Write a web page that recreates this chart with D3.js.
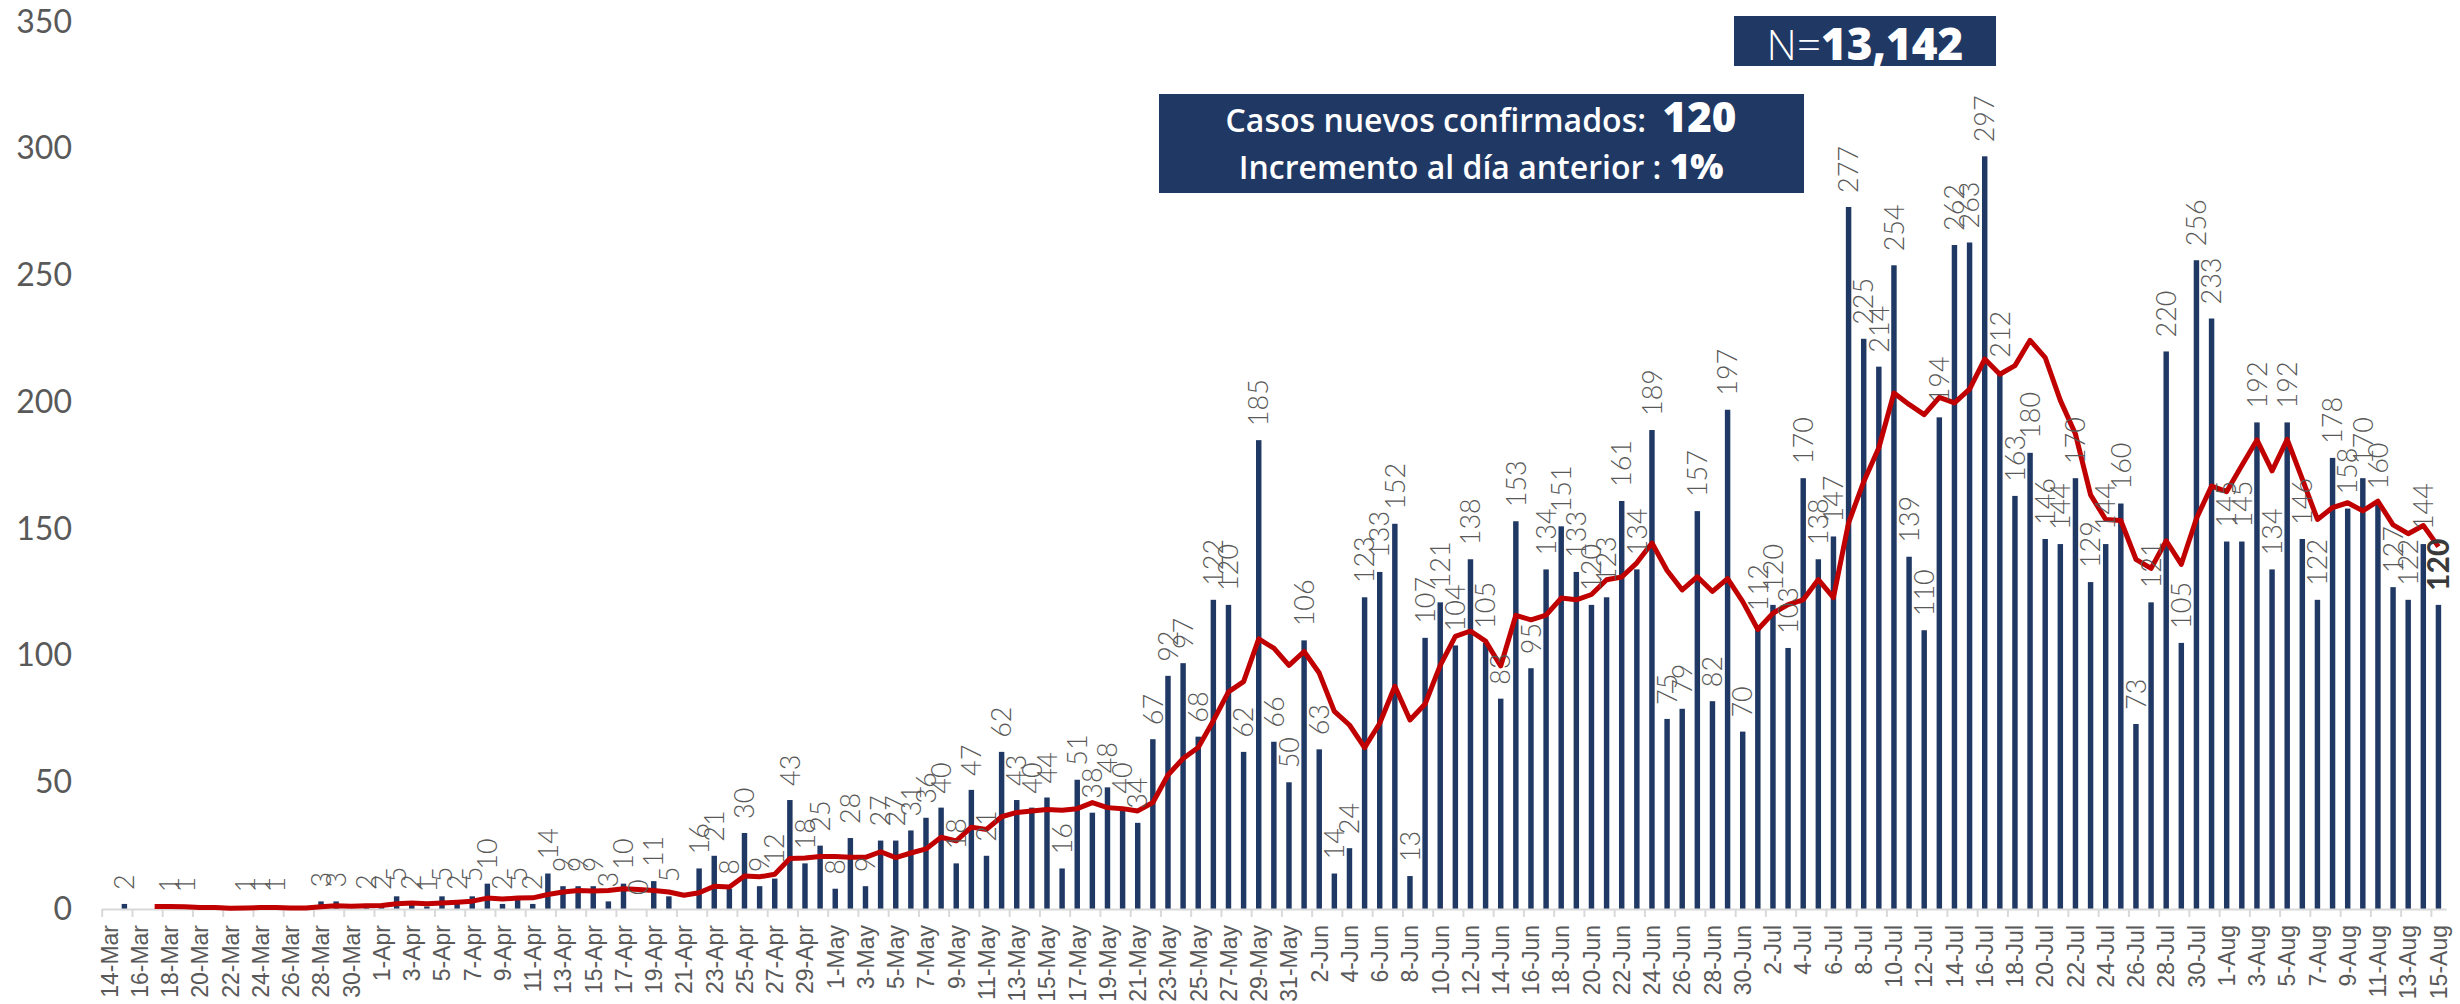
<!DOCTYPE html>
<html><head><meta charset="utf-8">
<script src="https://cdn.jsdelivr.net/npm/d3@7"></script>
<style>body{margin:0;background:#fff}svg{display:block}</style>
</head><body>
<svg id="chart" width="2460" height="1004"></svg>
<script>
// ---- DATA ----
const startDate = new Date(2020, 2, 14);
const endDate = new Date(2020, 7, 16);
const casesMar = [null,2,null,null,1,1,null,null,null,1,1,1,null,null,3,3,null,2];
const casesApr = [2,5,2,1,5,2,5,10,2,5,2,14,9,9,9,3,10,0,11,5,null,16,21,8,30,9,12,43,18,25];
const casesMay = [8,28,9,27,27,31,36,40,18,47,21,62,43,40,44,16,51,38,48,40,34,67,92,97,68,122,120,62,185,66,50];
const casesJun = [106,63,14,24,123,133,152,13,107,121,104,138,105,83,153,95,134,151,133,120,123,161,134,189,75,79,157,82,197,70];
const casesJul = [112,120,103,170,138,147,277,225,214,254,139,110,194,262,263,297,212,163,180,146,144,170,129,144,160,73,121,220,105,256,233];
const casesAug = [145,145,192,134,192,146,122,178,158,170,160,127,122,144,120];
// 7-day moving average line (as drawn)
const avgMar = [null,null,null,1.0,1.0,0.9,0.6,0.6,0.3,0.4,0.6,0.6,0.4,0.4,0.9,1.3,1.1,1.3];
const avgApr = [1.4,2.1,2.4,2.1,2.4,2.7,3.1,4.3,3.9,4.3,4.4,5.7,6.7,7.3,7.1,7.3,8.0,7.7,7.3,6.7,5.4,6.4,9.0,8.7,13.0,12.7,13.7,19.9,20.1,20.7];
const avgMay = [20.7,20.4,20.4,22.6,20.3,22.1,23.7,28.3,26.9,32.3,31.4,36.4,38.1,38.7,39.3,39.0,39.6,42.0,40.0,39.6,38.7,42.0,52.9,59.4,63.7,74.3,85.7,89.7,106.6,102.9,96.1];
const avgJun = [101.6,93.1,78.0,72.6,63.7,73.3,87.9,74.6,80.9,96.1,107.6,109.7,105.7,95.9,115.9,114.1,116.0,122.7,122.0,124.1,129.9,131.0,136.6,144.4,133.6,125.9,131.1,125.3,130.4,121.3];
const avgJul = [110.3,116.7,120.1,122.0,130.0,122.9,152.4,168.6,182.0,203.6,199.1,195.1,201.9,199.7,205.1,217.0,211.0,214.4,224.4,217.6,200.7,187.4,163.4,153.7,153.3,138.0,134.4,145.3,136.0,154.1,166.9];
const avgAug = [164.7,175.0,185.1,172.9,185.3,169.6,153.7,158.4,160.3,157.1,160.9,151.6,148.1,151.3,143.0];
const yTicks = [0,50,100,150,200,250,300,350];
const totalLabel = "13,142";
const newCases = "120";
const increase = "1%";

// ---- BUILD ----
const dates = d3.timeDay.range(startDate, endDate);
const cases = [].concat(casesMar, casesApr, casesMay, casesJun, casesJul, casesAug);
const avg = [].concat(avgMar, avgApr, avgMay, avgJun, avgJul, avgAug);
const n = dates.length;
const idx = d3.range(n);
const fmt = d3.timeFormat("%-d-%b");

const svg = d3.select("#chart");
const x0 = 101.7, x1 = 2446, yBase = 909, yTop = 22;
const pad = 0.64;
const x = d3.scaleBand().domain(idx).range([x0, x1]).paddingInner(pad).paddingOuter(pad/2);
const xb = d3.scaleLinear().domain([0, n]).range([x0, x1]);
const y = d3.scaleLinear().domain([0, 350]).range([yBase, yTop]);

const numFont = "Lato, 'Open Sans', sans-serif";
const grey = "#595959";
const navy = "#203864";

// y axis labels
const yAxis = svg.append("g").attr("transform", "translate(72,0)")
  .call(d3.axisLeft(y).tickValues(yTicks).tickSize(0).tickPadding(0));
yAxis.select(".domain").remove();
yAxis.selectAll("text").attr("font-family", numFont).attr("font-size", 32)
  .attr("fill", grey).attr("font-weight", 400);

// bars
svg.append("g").selectAll("rect").data(idx.filter(i => cases[i])).join("rect")
  .attr("x", i => x(i)).attr("width", x.bandwidth())
  .attr("y", i => y(cases[i])).attr("height", i => y(0) - y(cases[i]))
  .attr("fill", navy);

// x axis (line + boundary ticks)
const xt = svg.append("g").attr("transform", `translate(0,${yBase})`)
  .call(d3.axisBottom(xb).tickValues(d3.range(0, n + 1, 2)).tickSize(8).tickSizeOuter(0).tickFormat(""));
xt.select(".domain").attr("stroke", "#d9d9d9").attr("stroke-width", 2);
xt.selectAll(".tick line").attr("stroke", "#d9d9d9").attr("stroke-width", 2);

// x labels
const xl = svg.append("g").attr("transform", `translate(0,${yBase})`)
  .call(d3.axisBottom(x).tickValues(idx.filter(i => i % 2 === 0)).tickSize(0).tickFormat(i => fmt(dates[i])));
xl.select(".domain").remove();
xl.selectAll("text").attr("font-family", "'Liberation Sans', Arial, sans-serif").attr("font-size", 23)
  .attr("fill", grey).attr("transform", "rotate(-90)").attr("text-anchor", "end")
  .attr("x", -16).attr("y", 0).attr("dy", "0.36em");

// moving average line
const line = d3.line().defined(d => d != null)
  .x((d, i) => x(i) + x.bandwidth() / 2).y(d => y(d));
svg.append("path").datum(avg).attr("d", line).attr("fill", "none")
  .attr("stroke", "#c00000").attr("stroke-width", 5).attr("stroke-linejoin", "round");

// data labels
svg.append("g").selectAll("text").data(idx.filter(i => cases[i] != null)).join("text")
  .attr("transform", i => `translate(${x(i) + x.bandwidth() / 2},${y(cases[i]) - 14}) rotate(-90)`)
  .attr("dy", "0.36em").attr("text-anchor", "start")
  .attr("font-family", numFont)
  .attr("font-size", i => i === n - 1 ? 30 : 27)
  .attr("font-weight", i => i === n - 1 ? 700 : 300)
  .attr("fill", i => i === n - 1 ? "#3a3a3a" : grey)
  .text(i => cases[i]);

// annotation boxes
const boxFont = "'Open Sans', Lato, sans-serif";
const b1 = svg.append("g");
b1.append("rect").attr("x", 1734).attr("y", 16).attr("width", 262).attr("height", 50).attr("fill", navy);
const t1 = b1.append("text").attr("x", 1865).attr("y", 60).attr("text-anchor", "middle")
  .attr("fill", "#fff").attr("font-family", boxFont);
t1.append("tspan").attr("font-size", 42).attr("font-weight", 300).text("N=");
t1.append("tspan").attr("font-size", 44).attr("font-weight", 800).text(totalLabel);

const b2 = svg.append("g");
b2.append("rect").attr("x", 1159).attr("y", 94).attr("width", 645).attr("height", 99).attr("fill", navy);
const t2 = b2.append("text").attr("x", 1481).attr("y", 132).attr("text-anchor", "middle")
  .attr("fill", "#fff").attr("font-family", boxFont);
t2.append("tspan").attr("font-size", 32).attr("font-weight", 600).text("Casos nuevos confirmados:\u00a0\u00a0");
t2.append("tspan").attr("font-size", 42).attr("font-weight", 800).text(newCases);
const t3 = b2.append("text").attr("x", 1481).attr("y", 179).attr("text-anchor", "middle")
  .attr("fill", "#fff").attr("font-family", boxFont);
t3.append("tspan").attr("font-size", 32).attr("font-weight", 600).text("Incremento al día anterior : ");
t3.append("tspan").attr("font-size", 35).attr("font-weight", 800).text(increase);
</script>
</body></html>
